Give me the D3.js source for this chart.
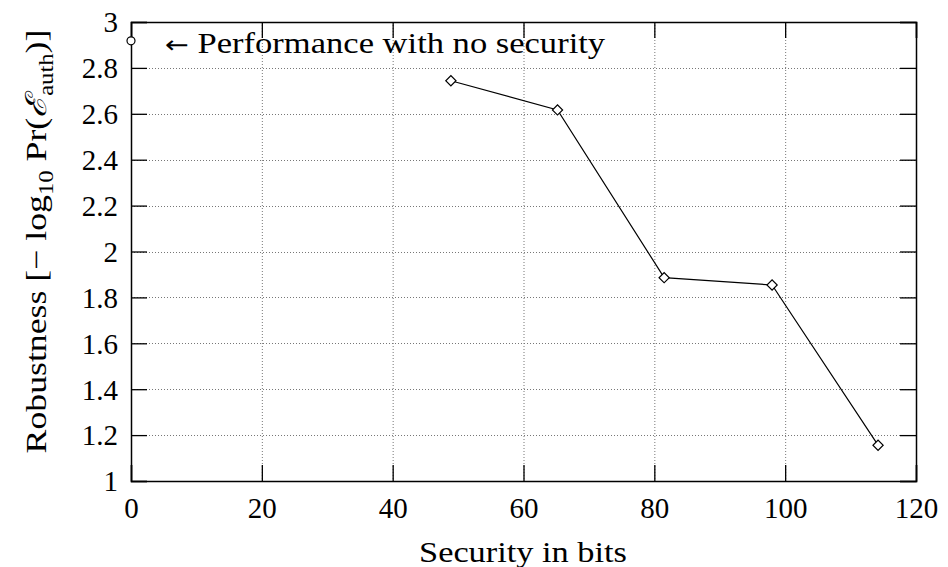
<!DOCTYPE html>
<html>
<head>
<meta charset="utf-8">
<script src="https://cdn.jsdelivr.net/npm/d3@7"></script>
<style>
  body { margin: 0; background: #fff; }
  svg { font-family: "Liberation Serif", "DejaVu Serif", serif; }
</style>
</head>
<body>
<svg id="chart" width="948" height="567"></svg>
<script>
// security (bits) vs robustness
const securityBits = [48.9, 65.2, 81.5, 98.0, 114.2]
const robustness = [2.744, 2.617, 1.886, 1.854, 1.156]
// baseline point without security
const noSecurity = [{ x: 0, y: 2.918 }]
const xTicks = [0, 20, 40, 60, 80, 100, 120]
const yTicks = [1, 1.2, 1.4, 1.6, 1.8, 2, 2.2, 2.4, 2.6, 2.8, 3]

const svg = d3.select("#chart")
const plotL = 131, plotR = 916, plotT = 22, plotB = 481
const tickLen = 16
const fontSize = 29

const x = d3.scaleLinear().domain([0, 120]).range([plotL, plotR])
const y = d3.scaleLinear().domain([1, 3]).range([plotB, plotT])

// stretch a text horizontally so it takes the width the LaTeX font had
function fitWidth(sel, width, anchorX) {
    const w = sel.node().getBBox().width
    const k = width / w
    sel.attr("transform", `translate(${anchorX * (1 - k)},0) scale(${k},1)`)
}

// dotted grid
const grid = svg.append("g").attr("stroke", "#777").attr("stroke-width", 1)
    .attr("stroke-dasharray", "1,2")
grid.selectAll("line.gx").data(xTicks.slice(1, -1)).join("line")
    .attr("class", "gx")
    .attr("x1", d => x(d) + 0.5).attr("x2", d => x(d) + 0.5)
    .attr("y1", plotT).attr("y2", plotB)
grid.selectAll("line.gy").data(yTicks.slice(1, -1)).join("line")
    .attr("class", "gy")
    .attr("x1", plotL).attr("x2", plotR)
    .attr("y1", d => Math.round(y(d)) + 0.5).attr("y2", d => Math.round(y(d)) + 0.5)

// axes, ticks inside on all sides
const fmt = d => String(d)
const xAxis = svg.append("g").attr("transform", `translate(0,${plotB})`)
    .call(d3.axisBottom(x).tickValues(xTicks).tickSize(-tickLen).tickFormat(fmt))
svg.append("g").attr("transform", `translate(0,${plotT})`)
    .call(d3.axisTop(x).tickValues(xTicks).tickSize(-tickLen).tickFormat(""))
const yAxis = svg.append("g").attr("transform", `translate(${plotL},0)`)
    .call(d3.axisLeft(y).tickValues(yTicks).tickSize(-tickLen).tickFormat(fmt))
svg.append("g").attr("transform", `translate(${plotR},0)`)
    .call(d3.axisRight(y).tickValues(yTicks).tickSize(-tickLen).tickFormat(""))

svg.selectAll(".domain").attr("stroke", "#000").attr("stroke-width", 1.5)
svg.selectAll(".tick line").attr("stroke", "#000").attr("stroke-width", 1.3)
svg.selectAll(".tick text").attr("font-size", fontSize).attr("fill", "#000")
    .attr("font-family", "Liberation Serif, serif")
xAxis.selectAll(".tick text").attr("y", 37).attr("dy", 0)
yAxis.selectAll(".tick text").attr("x", -13).attr("dy", "0.34em")

// data line
const pts = securityBits.map((s, i) => ({ x: s, y: robustness[i] }))
svg.append("path").datum(pts)
    .attr("fill", "none").attr("stroke", "#000").attr("stroke-width", 1.2)
    .attr("d", d3.line().x(d => x(d.x)).y(d => y(d.y)))

svg.selectAll("path.diamond").data(pts).join("path")
    .attr("class", "diamond")
    .attr("transform", d => `translate(${x(d.x)},${y(d.y)}) rotate(45)`)
    .attr("d", d3.symbol().type(d3.symbolSquare).size(52))
    .attr("fill", "#fff").attr("stroke", "#000").attr("stroke-width", 1.2)

svg.selectAll("circle.base").data(noSecurity).join("circle")
    .attr("class", "base")
    .attr("cx", d => x(d.x)).attr("cy", d => y(d.y)).attr("r", 4)
    .attr("fill", "#fff").attr("stroke", "#000").attr("stroke-width", 1.2)

const noteX = x(noSecurity[0].x) + 34
const note = svg.append("text")
    .attr("x", noteX).attr("y", y(noSecurity[0].y) + 12)
    .attr("font-size", fontSize)
note.append("tspan").attr("font-family", "DejaVu Sans, sans-serif").attr("font-size", 24).text("←")
note.append("tspan").text(" Performance with no security")
fitWidth(note, 441, noteX)

// axis labels
const xlX = 523
const xl = svg.append("text")
    .attr("x", xlX).attr("y", 562)
    .attr("text-anchor", "middle").attr("font-size", fontSize)
    .text("Security in bits")
fitWidth(xl, 208, xlX)

const ylG = svg.append("g")
    .attr("transform", `translate(46,${(plotT + plotB) / 2 - 10}) rotate(-90)`)
const yl = ylG.append("text")
    .attr("text-anchor", "middle").attr("font-size", fontSize)
yl.append("tspan").text("Robustness [− log")
yl.append("tspan").attr("font-size", 20).attr("dy", 7).text("10")
yl.append("tspan").attr("dy", -7).text(" Pr(")
yl.append("tspan").attr("font-style", "italic").attr("font-family", "DejaVu Serif, serif").text("ℰ")
yl.append("tspan").attr("font-size", 20).attr("dy", 7).text("auth")
yl.append("tspan").attr("dy", -7).text(")]")
fitWidth(yl, 423, 0)
</script>
</body>
</html>
